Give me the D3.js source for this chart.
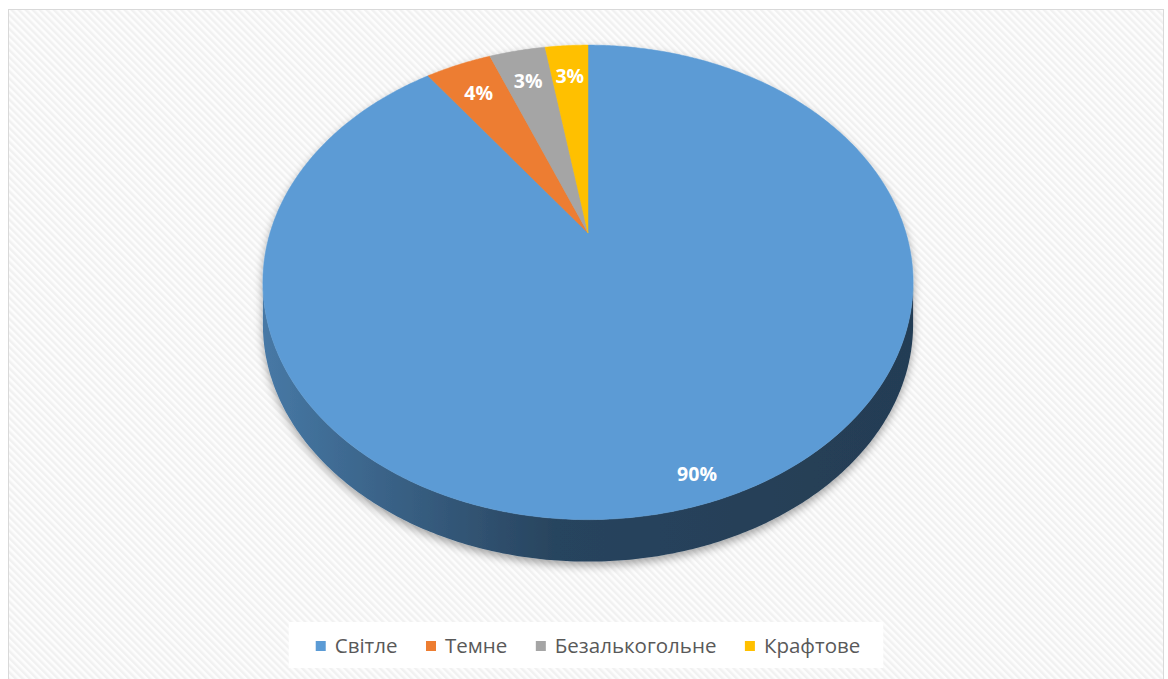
<!DOCTYPE html>
<meta charset="utf-8">
<head>
<title>Pie 3D</title>
<style>
body { margin: 0; background: #fff; }
.legend text {
  font-family: "Open Sans", "Noto Sans", sans-serif;
  font-size: 20.5px;
  fill: #595959;
}
.label {
  font-family: "Open Sans", "Noto Sans", sans-serif;
  font-size: 19.5px;
  font-weight: bold;
  fill: #fff;
}
</style>
</head>
<body>
<script src="https://cdn.jsdelivr.net/npm/d3@7"></script>
<script>

var categories = ["Світле", "Темне", "Безалькогольне", "Крафтове"];
var shares = [90, 4, 3.4, 2.6];
var colors = ["#5b9bd5", "#ed7d31", "#a5a5a5", "#ffc000"];

var width = 1168,
    height = 679;

// pie in perspective: center of the disc, half axes and tilt factor
var cx = 588, cy = 233,
    A = 318, B = 227,
    k = 0.208,
    depth = 42;

var svg = d3.select("body").append("svg")
    .attr("width", width)
    .attr("height", height);

var defs = svg.append("defs");

var pat = defs.append("pattern")
    .attr("id", "hatch")
    .attr("patternUnits", "userSpaceOnUse")
    .attr("width", 5)
    .attr("height", 5)
    .attr("patternTransform", "rotate(-45)");
pat.append("rect").attr("width", 5).attr("height", 5).attr("fill", "#fdfdfd");
pat.append("rect").attr("width", 2.5).attr("height", 5).attr("fill", "#f1f1f1");

var shadow = defs.append("filter")
    .attr("id", "shadow")
    .attr("x", "-20%").attr("y", "-20%")
    .attr("width", "140%").attr("height", "140%");
shadow.append("feDropShadow")
    .attr("dx", 0).attr("dy", 4)
    .attr("stdDeviation", 4.5)
    .attr("flood-color", "#000")
    .attr("flood-opacity", 0.35);

// frame
svg.append("rect")
    .attr("x", 8.5)
    .attr("y", 9.5)
    .attr("width", 1155)
    .attr("height", 680)
    .attr("fill", "url(#hatch)")
    .attr("stroke", "#d9d9d9");

var pie = d3.pie().sort(null).value(function(d) { return d; });
var arcs = pie(shares);
var total = d3.sum(shares);
var fmt = d3.format(".0%");

function proj(theta, f, dy) {
  var u = f * Math.sin(theta),
      v = f * Math.cos(theta),
      w = 1 + k * v;
  return [cx + A * u / w, cy - B * v / w + (dy || 0)];
}

function samples(a0, a1) {
  var n = Math.max(2, Math.ceil((a1 - a0) / 0.01)), pts = [];
  for (var i = 0; i <= n; i++) pts.push(a0 + (a1 - a0) * i / n);
  return pts;
}

var line = d3.line();

var g = svg.append("g").attr("filter", "url(#shadow)");

// side wall: visible between the two silhouette points
var tR = Math.acos(-k), tL = 2 * Math.PI - tR;

arcs.forEach(function(d, i) {
  var a0 = Math.max(d.startAngle, tR), a1 = Math.min(d.endAngle, tL);
  if (a1 <= a0) return;
  var gid = "side" + i;
  var c = d3.color(colors[i]);
  var grad = defs.append("linearGradient")
      .attr("id", gid)
      .attr("gradientUnits", "userSpaceOnUse")
      .attr("x1", cx - A * 1.03).attr("x2", cx + A * 1.03)
      .attr("y1", 0).attr("y2", 0);
  grad.append("stop").attr("offset", "0%").attr("stop-color", c.darker(0.7));
  grad.append("stop").attr("offset", "45%").attr("stop-color", c.darker(2.3));
  grad.append("stop").attr("offset", "100%").attr("stop-color", c.darker(2.6));
  var ts = samples(a0, a1);
  var top = ts.map(function(t) { return proj(t, 1, 0); });
  var bot = ts.slice().reverse().map(function(t) { return proj(t, 1, depth); });
  g.append("path")
      .attr("d", line(top.concat(bot)) + "Z")
      .attr("fill", "url(#" + gid + ")");
});

// top face
g.selectAll("path.slice")
    .data(arcs)
  .enter().append("path")
    .attr("class", "slice")
    .attr("d", function(d) {
      var pts = [proj(0, 0, 0)].concat(samples(d.startAngle, d.endAngle).map(function(t) { return proj(t, 1, 0); }));
      return line(pts) + "Z";
    })
    .attr("fill", function(d, i) { return colors[i]; })
    .attr("stroke", function(d, i) { return colors[i]; })
    .attr("stroke-width", 0.5);

// data labels
svg.selectAll("text.label")
    .data(arcs)
  .enter().append("text")
    .attr("class", "label")
    .attr("text-anchor", "middle")
    .attr("dy", ".35em")
    .attr("transform", function(d) {
      var f = (d.endAngle - d.startAngle) > Math.PI ? 0.91 : 0.82;
      var p = proj((d.startAngle + d.endAngle) / 2, f, 0);
      return "translate(" + p[0] + "," + (p[1] + 2) + ")";
    })
    .text(function(d) { return fmt(d.value / total); });

// legend
var legend = svg.append("g").attr("class", "legend");
var box = legend.append("rect").attr("fill", "#fff");
var items = legend.selectAll("g.item")
    .data(categories)
  .enter().append("g")
    .attr("class", "item");
items.append("rect")
    .attr("width", 10)
    .attr("height", 10)
    .attr("y", -5)
    .attr("fill", function(d, i) { return colors[i]; });
items.append("text")
    .attr("x", 19)
    .attr("dy", ".35em")
    .text(function(d) { return d; });

var gap = 28.5, x = 0, ly = 646;
items.each(function() {
  var w = 19 + this.querySelector("text").getComputedTextLength();
  d3.select(this).attr("data-x", x);
  x += w + gap;
});
var legW = x - gap, lx0 = cx - legW / 2;
items.attr("transform", function() {
  return "translate(" + (lx0 + +this.getAttribute("data-x")) + "," + ly + ")";
});
box.attr("x", lx0 - 27)
    .attr("y", ly - 24)
    .attr("width", legW + 50)
    .attr("height", 46);

</script>
</body>
